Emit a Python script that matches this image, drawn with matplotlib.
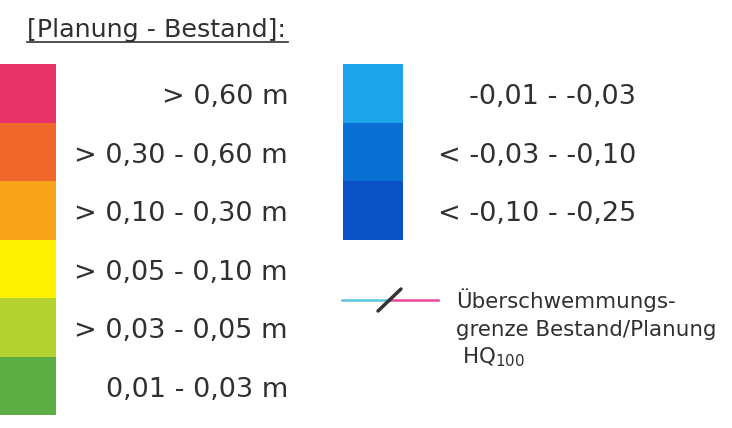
import matplotlib
matplotlib.use('Agg')
import matplotlib.pyplot as plt

# legend classes [Planung - Bestand]
pos_labels = ['> 0,60 m', '> 0,30 - 0,60 m', '> 0,10 - 0,30 m',
              '> 0,05 - 0,10 m', '> 0,03 - 0,05 m', '0,01 - 0,03 m']
pos_colors = ['#E8336B', '#F0682C', '#F8A41B', '#FFF200', '#B5D233', '#5DAF45']
neg_labels = ['-0,01 - -0,03', '< -0,03 - -0,10', '< -0,10 - -0,25']
neg_colors = ['#1CA3EA', '#0A70D4', '#0A51C6']
title = '[Planung - Bestand]:'
line_text = ['Überschwemmungs-', 'grenze Bestand/Planung']

plt.rcParams['font.family'] = ['DejaVu Sans']
txt_col = '#303030'

fig = plt.figure(figsize=(7.32, 4.28), dpi=100)
ax = fig.add_axes([0, 0, 1, 1])
ax.set_xlim(0, 732)
ax.set_ylim(428, 0)
ax.axis('off')

top = 64
row = 58.5

# title with underline
ax.text(27, 37, title, fontsize=18.3, color=txt_col, va='baseline', ha='left')
ax.plot([27, 288], [42, 42], color=txt_col, lw=1.2)

for i, (lab, c) in enumerate(zip(pos_labels, pos_colors)):
    ax.bar(0, row, width=56, bottom=top + i * row, color=c, align='edge', lw=0)
    ax.text(288, top + i * row + row / 2 + 4, lab, fontsize=19.5, color=txt_col,
            ha='right', va='center')

for i, (lab, c) in enumerate(zip(neg_labels, neg_colors)):
    ax.bar(343, row + 0.5, width=60, bottom=top + i * row, color=c, align='edge', lw=0)
    ax.text(636, top + i * row + row / 2 + 4, lab, fontsize=19.5, color=txt_col,
            ha='right', va='center')

# flood boundary line symbol
ax.plot([342, 390], [300, 300], color='#5BC6DE', lw=1.8)
ax.plot([390, 438], [300, 300], color='#E8479B', lw=1.8)
ax.plot([378, 401], [311, 289], color='#333333', lw=2.5, solid_capstyle='round')

ax.text(456, 300, line_text[0], fontsize=15.4, color=txt_col, va='center', ha='left')
ax.text(456, 330, line_text[1], fontsize=15.4, color=txt_col, va='center', ha='left')
ax.text(462, 357, 'HQ$_{\\mathregular{100}}$', fontsize=15.4, color=txt_col, va='center', ha='left')

fig.savefig('out.png', dpi=100)
